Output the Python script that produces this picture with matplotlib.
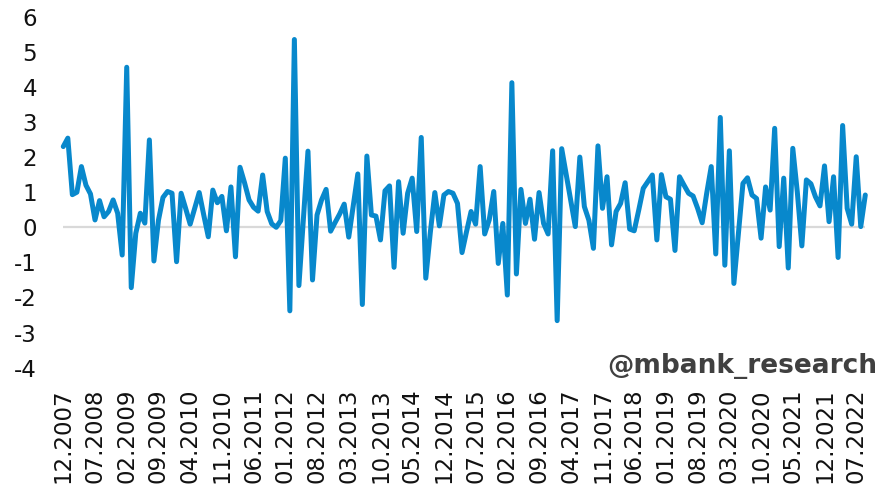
import numpy as np
import pandas as pd
import matplotlib
matplotlib.use("Agg")
import matplotlib.pyplot as plt

# Monthly series, 12.2007 onwards
values = [
    2.30, 2.54, 0.93, 1.00, 1.73, 1.20, 0.95, 0.21, 0.76, 0.30,
    0.45, 0.78, 0.40, -0.79, 4.56, -1.72, -0.17, 0.40, 0.12, 2.49,
    -0.96, 0.20, 0.85, 1.02, 0.97, -0.98, 0.97, 0.54, 0.09, 0.54,
    0.99, 0.35, -0.27, 1.06, 0.70, 0.88, -0.10, 1.15, -0.84, 1.71,
    1.27, 0.78, 0.57, 0.46, 1.49, 0.45, 0.10, 0.00, 0.19, 1.97,
    -2.38, 5.35, -1.66, 0.25, 2.17, -1.50, 0.35, 0.78, 1.08, -0.11,
    0.14, 0.38, 0.66, -0.28, 0.62, 1.52, -2.20, 2.03, 0.35, 0.32,
    -0.36, 1.04, 1.18, -1.14, 1.30, -0.17, 0.97, 1.40, -0.12, 2.56,
    -1.45, -0.15, 0.99, 0.04, 0.92, 1.02, 0.97, 0.68, -0.72, -0.12,
    0.45, 0.09, 1.73, -0.19, 0.21, 1.02, -1.03, 0.11, -1.93, 4.12,
    -1.33, 1.08, 0.11, 0.80, -0.34, 0.99, 0.11, -0.19, 2.18, -2.66,
    2.24, 1.50, 0.75, 0.02, 2.00, 0.59, 0.20, -0.60, 2.32, 0.54,
    1.44, -0.50, 0.45, 0.68, 1.27, -0.05, -0.10, 0.49, 1.11, 1.30,
    1.49, -0.36, 1.50, 0.87, 0.80, -0.66, 1.44, 1.20, 0.97, 0.89,
    0.54, 0.13, 0.97, 1.73, -0.76, 3.13, -1.08, 2.18, -1.60, -0.18,
    1.25, 1.41, 0.92, 0.82, -0.31, 1.15, 0.49, 2.82, -0.55, 1.40,
    -1.16, 2.25, 1.00, -0.53, 1.35, 1.24, 0.87, 0.61, 1.75, 0.16,
    1.44, -0.86, 2.90, 0.54, 0.09, 2.01, 0.02, 0.92,
]

tick_labels = [
    "12.2007", "07.2008", "02.2009", "09.2009", "04.2010", "11.2010",
    "06.2011", "01.2012", "08.2012", "03.2013", "10.2013", "05.2014",
    "12.2014", "07.2015", "02.2016", "09.2016", "04.2017", "11.2017",
    "06.2018", "01.2019", "08.2019", "03.2020", "10.2020", "05.2021",
    "12.2021", "07.2022",
]
tick_step = 7  # months between labels

y_ticks = [6, 5, 4, 3, 2, 1, 0, -1, -2, -3, -4]

months = pd.period_range("2007-12", periods=len(values), freq="M")
x = np.arange(len(months))

fig = plt.figure(figsize=(8.79, 5.0), dpi=100)
ax = fig.add_axes([0.0720, 0.2646, 0.9124, 0.7020])

ax.axhline(0, color="#d9d9d9", linewidth=1.6, zorder=1)
ax.plot(x, values, color="#0888CC", linewidth=3.6,
        solid_joinstyle="round", solid_capstyle="round",
        clip_on=False, zorder=3)

ax.set_xlim(0, len(values) - 1)
ax.set_ylim(-4, 6)
ax.set_yticks(y_ticks)
ax.set_yticklabels([str(v) for v in y_ticks])
ax.set_xticks(x[::tick_step][:len(tick_labels)])
ax.set_xticklabels(tick_labels, rotation=90)

for s in ax.spines.values():
    s.set_visible(False)
ax.tick_params(axis="y", length=0, pad=19, labelsize=16.5, labelcolor="#111111")
ax.tick_params(axis="x", length=0, pad=15, labelsize=16.5, labelcolor="#111111")
for lbl in ax.get_xticklabels():
    lbl.set_verticalalignment("top")
ax.set_facecolor("white")

fig.text(0.998, 1 - 366 / 500, "@mbank_research", ha="right", va="center",
         fontsize=19, fontweight="bold", color="#404040")

fig.savefig("out.png", dpi=100, facecolor="white")
